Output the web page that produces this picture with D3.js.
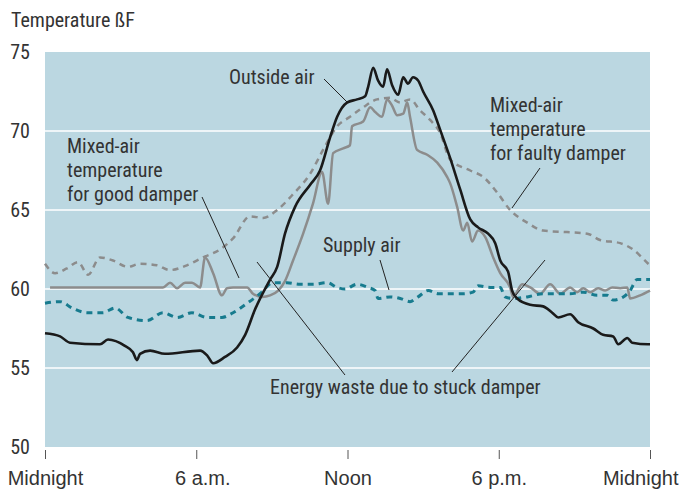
<!DOCTYPE html>
<html><head><meta charset="utf-8">
<script src="https://cdn.jsdelivr.net/npm/d3@7"></script>
<style>
body{margin:0;background:#fff;}
text{font-family:"Liberation Sans Narrow","Arial Narrow","Roboto Condensed",sans-serif;font-stretch:condensed;fill:#333;}
</style></head><body>
<svg id="c" width="688" height="490"></svg>
<script>
// ---- data (hours since midnight, °F) ----
const outsideHours = [0,0.6,0.99,2.18,2.5,3.17,3.49,3.65,3.77,4.17,4.76,6.15,6.43,6.67,7.14,7.62,7.94,8.33,8.93,9.21,9.52,9.92,10.52,10.91,11.31,11.59,11.98,12.38,12.7,12.82,13.02,13.21,13.41,13.57,13.77,14.01,14.21,14.4,14.6,14.8,15.0,15.4,15.67,16.07,16.47,16.87,17.18,17.58,17.86,18.06,18.37,18.53,18.73,19.25,19.76,20.12,20.36,20.83,21.15,21.75,22.14,22.54,22.74,23.1,23.29,23.93,24];
const outsideTemps = [57.2,57.0,56.6,56.5,56.8,56.4,56.0,55.5,55.9,56.1,55.9,56.1,55.8,55.3,55.7,56.3,57.1,58.7,60.6,61.4,63.5,65.2,66.6,67.5,69.6,70.9,71.8,72.0,72.2,72.8,74.0,73.2,72.8,73.9,72.9,72.3,73.4,73.0,73.4,73.2,72.5,71.3,70.1,68.3,66.3,64.4,63.9,63.5,62.9,61.8,61.1,59.9,59.4,59.0,58.9,58.5,58.2,58.4,57.9,57.5,57.1,57.0,56.5,56.9,56.6,56.5,56.5];

const faultyHours = [0,0.4,0.87,1.31,1.71,2.18,2.7,3.29,3.77,4.44,4.96,5.63,6.27,6.94,7.46,8.13,8.65,9.21,9.84,10.52,11.03,11.59,12.1,12.62,13.17,13.69,14.09,14.48,14.88,15.28,15.67,16.07,16.87,17.38,17.94,18.45,19.13,19.76,20.71,21.51,22.02,22.82,23.33,23.93,24];
const faultyTemps = [61.6,61.0,61.3,61.7,60.9,62.0,61.8,61.4,61.6,61.5,61.2,61.5,62.0,62.5,63.2,64.6,64.5,65.0,66.0,67.3,68.8,70.3,70.9,71.5,72.0,72.1,71.8,72.0,71.3,70.7,69.9,68.2,67.5,67.1,66.1,65.0,64.2,63.7,63.6,63.5,63.1,62.9,62.5,61.6,61.5];

const supplyHours = [0,0.6,1.07,1.67,2.3,2.78,3.29,4.05,4.68,5.24,5.83,6.43,7.02,7.46,8.02,8.53,9.05,9.6,10.12,10.63,11.19,11.59,11.9,12.38,12.82,13.1,13.21,13.69,14.09,14.48,14.8,15.2,15.6,16.07,16.59,16.98,17.18,17.66,18.06,18.25,18.57,19.13,19.76,20.32,20.83,21.35,21.9,22.3,22.54,22.94,23.21,23.49,24];
const supplyTemps = [59.1,59.2,58.8,58.5,58.5,58.8,58.2,58.0,58.5,58.2,58.5,58.2,58.2,58.5,59.1,59.7,60.4,60.4,60.3,60.3,60.4,60.1,60.0,60.3,60.1,59.9,59.4,59.5,59.4,59.2,59.5,59.9,59.7,59.7,59.7,59.8,60.2,60.1,60.1,59.5,59.4,59.5,59.7,59.7,59.7,59.8,59.6,59.6,59.3,59.5,59.9,60.6,60.6];

const goodHours = [0.2,4.68,4.96,5.24,5.56,5.83,6.15,6.35,6.67,7.02,7.22,7.46,8.02,8.25,8.61,8.93,9.25,9.52,9.84,10.24,10.63,10.99,11.23,11.43,11.83,12.1,12.18,12.62,12.9,13.1,13.37,13.57,13.77,13.97,14.21,14.37,14.48,14.76,15.16,15.56,15.95,16.07,16.35,16.59,16.75,16.94,17.18,17.46,17.78,18.06,18.45,18.57,18.93,19.25,19.64,20.04,20.44,20.83,21.11,21.35,21.63,21.94,22.22,22.5,22.82,23.1,23.21,23.61,24];
const goodTemps = [60.1,60.1,60.4,60.05,60.4,60.4,60.1,62.0,61.0,59.6,60.05,60.1,60.1,59.7,59.5,59.6,59.9,60.5,61.8,63.5,65.4,67.4,65.4,68.6,68.9,69.1,70.3,70.6,71.5,71.2,70.9,72.0,71.6,71.0,71.1,71.8,70.9,68.8,68.5,68.0,67.1,66.7,65.2,63.7,64.2,63.0,63.7,63.3,62.0,61.0,60.1,59.5,60.3,60.1,59.7,60.3,59.7,60.1,59.8,60.05,59.8,60.05,59.9,60.1,60.05,60.1,59.4,59.6,59.9];

const yTicks = [50,55,60,65,70,75];
const xTickHours = [0,6,12,18,24];
const xTickLabels = ["Midnight","6 a.m.","Noon","6 p.m.","Midnight"];
const yTitle = "Temperature ßF";

// ---- layout ----
const svg = d3.select("#c");
const L = 45, R = 650, T = 52, B = 447;
const x = d3.scaleLinear().domain([0,24]).range([L,R]);
const y = d3.scaleLinear().domain([50,75]).range([B,T]);

svg.append("rect").attr("x",L).attr("y",T).attr("width",R-L).attr("height",B-T).attr("fill","#bbd7e1");

// gridlines
svg.append("g").selectAll("line").data(yTicks.filter(v=>v>50&&v<75)).join("line")
  .attr("x1",L).attr("x2",R).attr("y1",d=>y(d)).attr("y2",d=>y(d))
  .attr("stroke","#fff").attr("stroke-width",1.5);

// y tick labels
svg.append("g").selectAll("text").data(yTicks).join("text")
  .attr("x",30).attr("y",d=>y(d)+7).attr("text-anchor","end")
  .attr("font-size",20).text(d=>d);

svg.append("text").attr("x",11).attr("y",27).attr("font-size",20).text(yTitle);

// x axis
const xAxis = d3.axisBottom(x).tickValues(xTickHours).tickSize(12).tickFormat((d,i)=>xTickLabels[i]);
const gx = svg.append("g").attr("transform",`translate(0,${B})`).call(xAxis);
gx.select(".domain").remove();
gx.selectAll(".tick line").attr("stroke","#555").attr("stroke-width",1).attr("y1",3);
gx.selectAll(".tick text").attr("font-size",20).attr("y",0).attr("dy",null)
  .attr("transform","translate(0,38)")
  .style("font-family",'"Liberation Sans Narrow","Arial Narrow",sans-serif').attr("fill","#333");
gx.selectAll(".tick text").filter((d,i)=>i===1).attr("x",6);
gx.selectAll(".tick text").filter((d,i)=>i===4).attr("text-anchor","end").attr("x",28);

const line = (hs,ts)=> d3.line().x((d,i)=>x(hs[i])).y((d,i)=>y(ts[i])).curve(d3.curveMonotoneX)(hs);

svg.append("path").attr("d",line(faultyHours,faultyTemps)).attr("fill","none")
  .attr("stroke","#8c8c8c").attr("stroke-width",2.5).attr("stroke-dasharray","6,5");
svg.append("path").attr("d",line(goodHours,goodTemps)).attr("fill","none")
  .attr("stroke","#8c8c8c").attr("stroke-width",2.5);
svg.append("path").attr("d",line(supplyHours,supplyTemps)).attr("fill","none")
  .attr("stroke","#177b8e").attr("stroke-width",3).attr("stroke-dasharray","6,5");
svg.append("path").attr("d",line(outsideHours,outsideTemps)).attr("fill","none")
  .attr("stroke","#1a1a1a").attr("stroke-width",2.6).attr("stroke-linejoin","round");

// annotations
const notes = [
  {x:229,y:84,lines:["Outside air"]},
  {x:490,y:112,lines:["Mixed-air","temperature","for faulty damper"]},
  {x:67,y:153,lines:["Mixed-air","temperature","for good damper"]},
  {x:323,y:252,lines:["Supply air"]},
  {x:270,y:394,lines:["Energy waste due to stuck damper"]}
];
notes.forEach(n=>{
  const t = svg.append("text").attr("x",n.x).attr("y",n.y).attr("font-size",20);
  n.lines.forEach((s,i)=>t.append("tspan").attr("x",n.x).attr("dy",i?24:0).text(s));
});
const leaders = [
  [324,79,347,102],
  [540,168,512,208],
  [202,197,239,278],
  [380,260,389,290],
  [257,262,345,375],
  [452,372,545,260]
];
svg.append("g").selectAll("line").data(leaders).join("line")
  .attr("x1",d=>d[0]).attr("y1",d=>d[1]).attr("x2",d=>d[2]).attr("y2",d=>d[3])
  .attr("stroke","#222").attr("stroke-width",1);
</script></body></html>
